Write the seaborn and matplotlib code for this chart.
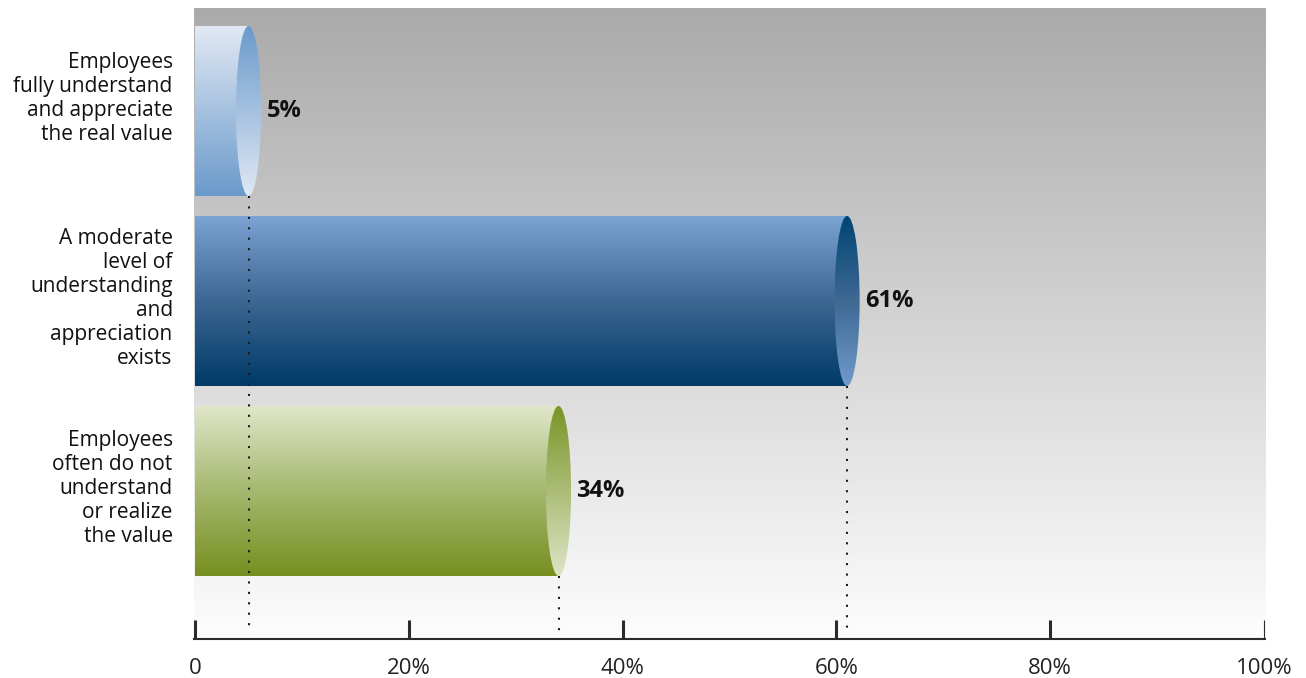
import numpy as np
import pandas as pd
import matplotlib
matplotlib.use("Agg")
import matplotlib.pyplot as plt
from matplotlib.colors import to_rgba
from matplotlib.patches import Ellipse
import seaborn as sns

# Survey answers and their shares (percent of respondents)
categories = [
    "Employees\nfully understand\nand appreciate\nthe real value",
    "A moderate\nlevel of\nunderstanding\nand\nappreciation\nexists",
    "Employees\noften do not\nunderstand\nor realize\nthe value",
]
shares = [5, 61, 34]
value_labels = ["5%", "61%", "34%"]
tick_values = [0, 20, 40, 60, 80, 100]
tick_labels = ["0", "20%", "40%", "60%", "80%", "100%"]

# Gradient stops, top to bottom, for each cylinder body and its end cap
body_stops = [
    ["#e2e9f4", "#6a9acb"],
    ["#7ca4d4", "#3d6793", "#003a67"],
    ["#e0e7cb", "#a6b870", "#768f1f"],
]
cap_stops = [
    ["#6a9acb", "#e0e8f4"],
    ["#004473", "#3e6993", "#719acb"],
    ["#7a9426", "#dde5c7"],
]
background_stops = ["#aaaaaa", "#fdfdfd"]
# vertical nudge (points) of each category label block
label_nudge = [9, 2, 2]


def vertical_gradient(stops, n=256):
    cols = np.array([to_rgba(c) for c in stops])
    pos = np.linspace(0, 1, len(cols))
    t = np.linspace(0, 1, n)
    arr = np.stack([np.interp(t, pos, cols[:, k]) for k in range(4)], axis=-1)
    return arr[:, None, :]


sns.set_theme(style="white")
plt.rcParams["font.family"] = ["Open Sans", "DejaVu Sans"]

fig = plt.figure(figsize=(13.06, 6.78), dpi=100)
ax = fig.add_axes([193.5 / 1306, 39 / 678, 1071.5 / 1306, 631 / 678])
ax.set_facecolor("none")

df = pd.DataFrame({"category": categories, "share": shares})
sns.barplot(data=df, x="share", y="category", orient="h", width=0.895,
            color="#6a9acb", saturation=1, errorbar=None, ax=ax, zorder=2)

XLIM = (-0.15, 100.1)
YLIM = (2.779, -0.542)
DOT_END = 2.742
CAP_W = 2.35

# Background wash behind the plot area
ax.imshow(vertical_gradient(background_stops), extent=(0, 1, 0, 1),
          transform=ax.transAxes, origin="upper", aspect="auto", zorder=0)

for i, bar in enumerate(list(ax.patches)):
    x0, y0 = bar.get_x(), bar.get_y()
    w, h = bar.get_width(), bar.get_height()
    x1, yc = x0 + w, y0 + h / 2
    bar.set_facecolor("none")
    bar.set_edgecolor("none")

    body = ax.imshow(vertical_gradient(body_stops[i]), extent=(x0, x1, y0 + h, y0),
                     origin="upper", aspect="auto", zorder=2)
    body.set_clip_path(bar)

    cap = Ellipse((x1, yc), CAP_W, h, facecolor="none", edgecolor="none", zorder=3)
    ax.add_patch(cap)
    cap_img = ax.imshow(vertical_gradient(cap_stops[i]),
                        extent=(x1 - CAP_W / 2, x1 + CAP_W / 2, y0 + h, y0),
                        origin="upper", aspect="auto", zorder=3)
    cap_img.set_clip_path(cap)

    # dotted drop line from the bar's end down to the axis
    ax.vlines(x1, y0 + h, DOT_END, colors="#1a1a1a", linestyles=(0, (1, 4)),
              linewidth=1.5, zorder=5)
    ax.annotate(value_labels[i], xy=(x1, yc), xytext=(13, 0), textcoords="offset points",
                ha="left", va="center", fontsize=17, fontweight="bold",
                color="#111111", zorder=6)

ax.set_xlim(XLIM)
ax.set_ylim(YLIM)
ax.set_xlabel("")
ax.set_ylabel("")

ax.set_xticks(tick_values, tick_labels)
ax.tick_params(axis="x", direction="in", length=13.7, width=2.2, color="#2b2b2b",
               pad=14, labelsize=16, labelcolor="#222222", bottom=True)
ax.xaxis.get_major_ticks()[-1].tick1line.set_markeredgewidth(0.8)

# Category labels, right-aligned against the plot area
ax.set_yticks(range(len(categories)), [""] * len(categories))
ax.tick_params(axis="y", length=0)
for i, name in enumerate(categories):
    ax.annotate(name, xy=(0, i), xycoords=ax.get_yaxis_transform(),
                xytext=(-15, label_nudge[i]), textcoords="offset points",
                ha="right", va="center", fontsize=15, color="#111111",
                linespacing=1.19, annotation_clip=False)

for side in ("top", "right", "left"):
    ax.spines[side].set_visible(False)
ax.spines["bottom"].set_color("#2b2b2b")
ax.spines["bottom"].set_linewidth(1.5)

fig.savefig("out.png", dpi=100)
